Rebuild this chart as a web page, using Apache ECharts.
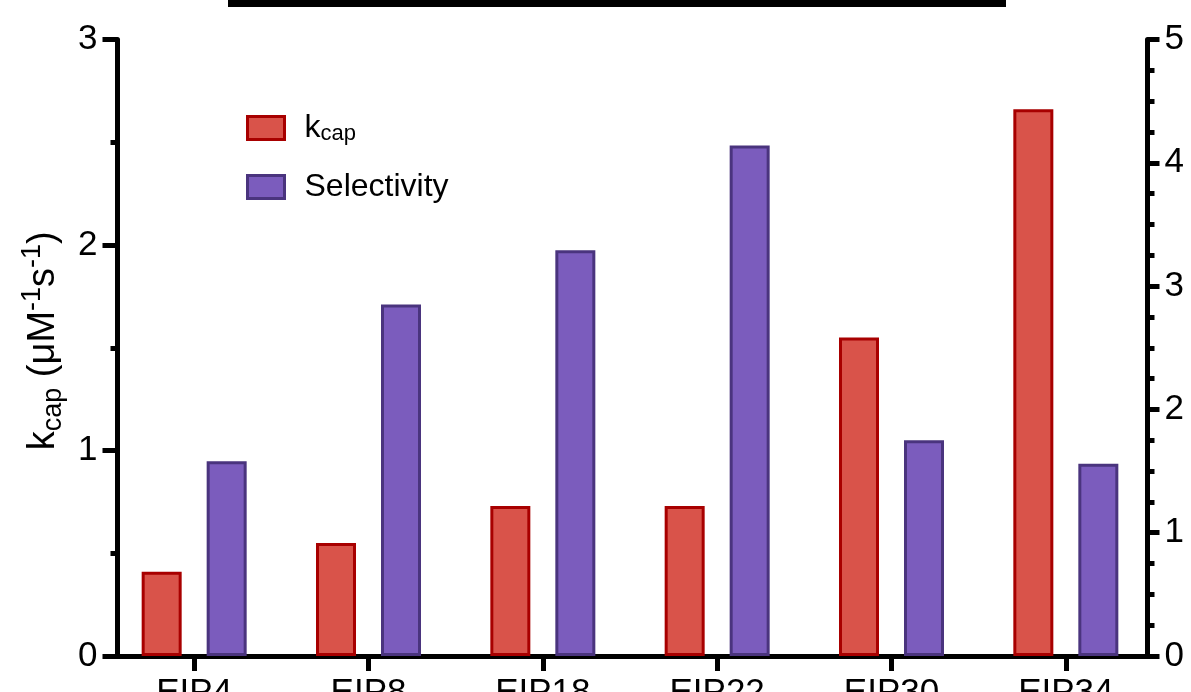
<!DOCTYPE html>
<html>
<head>
<meta charset="utf-8">
<script src="https://cdn.jsdelivr.net/npm/echarts@6/dist/echarts.min.js"></script>
<style>
  html, body { margin: 0; padding: 0; background: #fff; }
  #chart { width: 1191px; height: 692px; }
</style>
</head>
<body>
<div id="chart"></div>
<script>
// categories and values
var categories = ['EIP4', 'EIP8', 'EIP18', 'EIP22', 'EIP30', 'EIP34'];
var kcapValues = [0.41, 0.55, 0.73, 0.73, 1.55, 2.66];
var selectivityValues = [1.58, 2.85, 3.29, 4.14, 1.75, 1.56];
var leftTicks = [0, 1, 2, 3];
var rightTicks = [0, 1, 2, 3, 4, 5];

var FONT = 'Liberation Sans, Arial, Helvetica, sans-serif';
var redFill = '#D9534A', redLine = '#A80000';
var purpleFill = '#7B5CBD', purpleLine = '#4A347E';

var myChart = echarts.init(document.getElementById('chart'));

var option = {
	animation: false,
	backgroundColor: '#fff',
	textStyle: { fontFamily: FONT, color: '#000' },
	// 顶部被截掉的标题下划线
	graphic: [{
		type: 'rect',
		shape: { x: 228, y: 0, width: 778, height: 7 },
		style: { fill: '#000' }
	}],
	legend: {
		orient: 'vertical',
		left: 241,
		top: 106,
		padding: 5,
		itemWidth: 37,
		itemHeight: 23,
		itemGap: 25,
		selectedMode: false,
		textStyle: {
			fontFamily: FONT,
			fontSize: 32,
			color: '#000',
			lineHeight: 34,
			padding: [0, 0, 0, 15],
			rich: {
				b: { fontSize: 32, fontFamily: FONT, lineHeight: 34 },
				s: { fontSize: 22, fontFamily: FONT, lineHeight: 22, verticalAlign: 'bottom' }
			}
		},
		formatter: function(name) {
			if (name === 'kcap') return '{b|k}{s|cap}';
			return name;
		},
		data: [
			{ name: 'kcap', icon: 'rect', itemStyle: { color: redFill, borderColor: redLine, borderWidth: 3 } },
			{ name: 'Selectivity', icon: 'rect', itemStyle: { color: purpleFill, borderColor: purpleLine, borderWidth: 3 } }
		]
	},
	grid: {
		left: 107,
		right: 38,
		top: 39.5,
		bottom: 36,
		outerBoundsMode: 'none',
		containLabel: false
	},
	xAxis: [{
		type: 'category',
		data: categories,
		position: 'bottom',
		axisLine: { lineStyle: { color: '#000', width: 5 } },
		axisTick: { show: true, alignWithLabel: true, length: 15, lineStyle: { color: '#000', width: 5 } },
		axisLabel: { fontSize: 35, fontFamily: FONT, color: '#000', margin: 20 },
		splitLine: { show: false }
	}, {
		// 顶部边框
		type: 'category',
		data: categories,
		position: 'top',
		axisLine: { lineStyle: { color: '#000', width: 5 } },
		axisTick: { show: false },
		axisLabel: { show: false },
		splitLine: { show: false }
	}],
	yAxis: [{
		type: 'value',
		position: 'left',
		offset: -10.5,
		min: leftTicks[0],
		max: leftTicks[leftTicks.length - 1],
		interval: 1,
		name: '{b|k}{s|cap}{b| (μM}{p|-1}{b|s}{p|-1}{b|)}',
		nameLocation: 'middle',
		nameGap: 39,
		nameTextStyle: {
			fontFamily: FONT,
			color: '#000',
			padding: [0, 0, 0, 14],
			rich: {
				b: { fontSize: 38, fontFamily: FONT, lineHeight: 48 },
				s: { fontSize: 27, fontFamily: FONT, lineHeight: 27, verticalAlign: 'bottom' },
				p: { fontSize: 27, fontFamily: FONT, lineHeight: 27, verticalAlign: 'top' }
			}
		},
		axisLine: { show: true, lineStyle: { color: '#000', width: 5 } },
		axisTick: { show: true, length: 15, lineStyle: { color: '#000', width: 5 } },
		minorTick: { show: true, splitNumber: 2, length: 7, lineStyle: { color: '#000', width: 5 } },
		axisLabel: { fontSize: 35, fontFamily: FONT, color: '#000', margin: 20 },
		splitLine: { show: false }
	}, {
		type: 'value',
		position: 'right',
		offset: -5.5,
		min: rightTicks[0],
		max: rightTicks[rightTicks.length - 1],
		interval: 1,
		axisLine: { show: true, lineStyle: { color: '#000', width: 5 } },
		axisTick: { show: true, length: 12, lineStyle: { color: '#000', width: 5 } },
		minorTick: { show: true, splitNumber: 4, length: 7, lineStyle: { color: '#000', width: 5 } },
		axisLabel: { fontSize: 35, fontFamily: FONT, color: '#000', margin: 17 },
		splitLine: { show: false }
	}],
	series: [{
		name: 'kcap',
		type: 'bar',
		yAxisIndex: 0,
		barWidth: 40,
		barGap: '62.5%',
		data: kcapValues,
		itemStyle: { color: redFill, borderColor: redLine, borderWidth: 3 }
	}, {
		name: 'Selectivity',
		type: 'bar',
		yAxisIndex: 1,
		barWidth: 40,
		barGap: '62.5%',
		data: selectivityValues,
		itemStyle: { color: purpleFill, borderColor: purpleLine, borderWidth: 3 }
	}]
};
myChart.setOption(option);
</script>
</body>
</html>
